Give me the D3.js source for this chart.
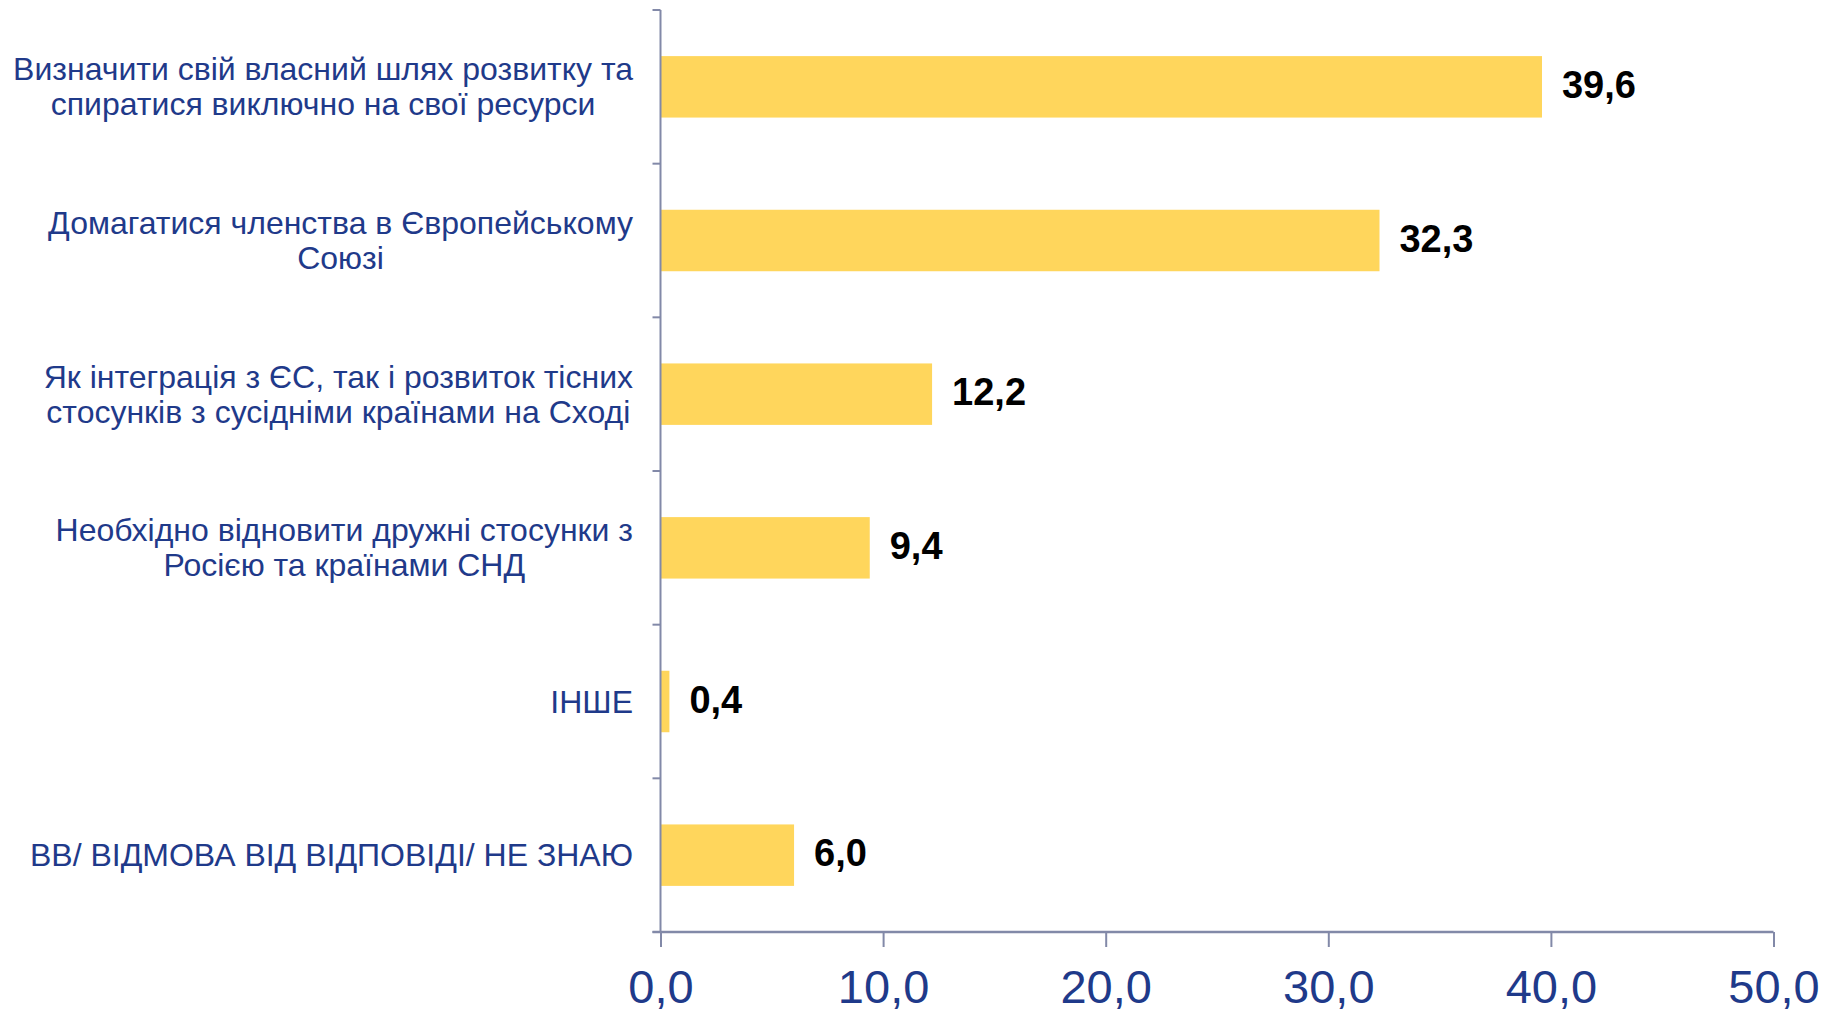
<!DOCTYPE html>
<html>
<head>
<meta charset="utf-8">
<script src="https://cdn.jsdelivr.net/npm/d3@7"></script>
<style>
  html, body { margin: 0; padding: 0; background: #fff; }
  svg { display: block; }
</style>
</head>
<body>
<div id="chart"></div>
<script>
// categories (each label split into its lines) and values
const categories = [
  ["Визначити свій власний шлях розвитку та", "спиратися виключно на свої ресурси"],
  ["Домагатися членства в Європейському", "Союзі"],
  ["Як інтеграція з ЄС, так і розвиток тісних", "стосунків з сусідніми країнами на Сході"],
  ["Необхідно відновити дружні стосунки з", "Росією та країнами СНД"],
  ["ІНШЕ"],
  ["ВВ/ ВІДМОВА ВІД ВІДПОВІДІ/ НЕ ЗНАЮ"]
];
const values = [39.6, 32.3, 12.2, 9.4, 0.4, 6.0];
const xTicks = [0, 10, 20, 30, 40, 50];

const W = 1827, H = 1013;
const axisColor = '#8289a8';
const textBlue = '#1f3a8a';
const barColor = '#ffd65c';
const fmt = d => d.toFixed(1).replace('.', ',');

const svg = d3.select('#chart').append('svg')
  .attr('width', W).attr('height', H);

const x = d3.scaleLinear().domain([0, 50]).range([660.5, 1773.5]);
const y = d3.scaleBand()
  .domain(d3.range(categories.length))
  .range([10, 932])
  .paddingInner(0.6)
  .paddingOuter(0.3);

// bars
svg.append('g').selectAll('rect')
  .data(values)
  .join('rect')
  .attr('x', x(0))
  .attr('y', (d, i) => y(i))
  .attr('width', d => x(d) - x(0))
  .attr('height', y.bandwidth())
  .attr('fill', barColor);

// value labels
svg.append('g').selectAll('text')
  .data(values)
  .join('text')
  .attr('x', d => x(d) + 20)
  .attr('y', (d, i) => y(i) + y.bandwidth() / 2 + 11)
  .attr('font-family', '"Liberation Sans", Arial, sans-serif')
  .attr('font-weight', 'bold')
  .attr('font-size', 38)
  .attr('fill', '#000')
  .text(fmt);

// left axis: line with ticks at category boundaries
const step = y.step();
const y0 = y.range()[0];
const left = svg.append('g').attr('stroke', axisColor).attr('stroke-width', 2);
left.append('line')
  .attr('x1', x(0)).attr('x2', x(0))
  .attr('y1', y0).attr('y2', y.range()[1]);
left.selectAll('.ct')
  .data(d3.range(categories.length + 1))
  .join('line')
  .attr('class', 'ct')
  .attr('x1', x(0) - 8).attr('x2', x(0))
  .attr('y1', i => y0 + i * step).attr('y2', i => y0 + i * step);

// category labels: centred block, right edge at 633
const labelRight = 633;
const labels = svg.append('g')
  .attr('font-family', '"Liberation Sans", Arial, sans-serif')
  .attr('font-size', 32)
  .attr('fill', textBlue);
categories.forEach((lines, i) => {
  const cy = y(i) + y.bandwidth() / 2;
  const lh = 35;
  const t = labels.append('text').attr('text-anchor', 'middle');
  const spans = lines.map((s, j) => t.append('tspan')
    .attr('y', cy + 11 + (j - (lines.length - 1) / 2) * lh)
    .text(s));
  const maxW = d3.max(spans, s => s.node().getComputedTextLength());
  spans.forEach(s => s.attr('x', labelRight - maxW / 2));
});

// bottom axis
const xAxis = svg.append('g')
  .attr('transform', `translate(0,${y.range()[1]})`)
  .call(d3.axisBottom(x).tickValues(xTicks).tickSize(15).tickSizeOuter(0).tickFormat(fmt));
xAxis.select('.domain').remove();
xAxis.selectAll('.tick line').attr('stroke', axisColor).attr('stroke-width', 2);
xAxis.selectAll('.tick text')
  .attr('y', 38)
  .attr('dy', '0.71em')
  .attr('font-family', '"Liberation Sans", Arial, sans-serif')
  .attr('font-size', 47)
  .attr('fill', textBlue);
xAxis.append('line')
  .attr('x1', x(0) - 8).attr('x2', x(50))
  .attr('stroke', axisColor).attr('stroke-width', 2.5);
</script>
</body>
</html>
